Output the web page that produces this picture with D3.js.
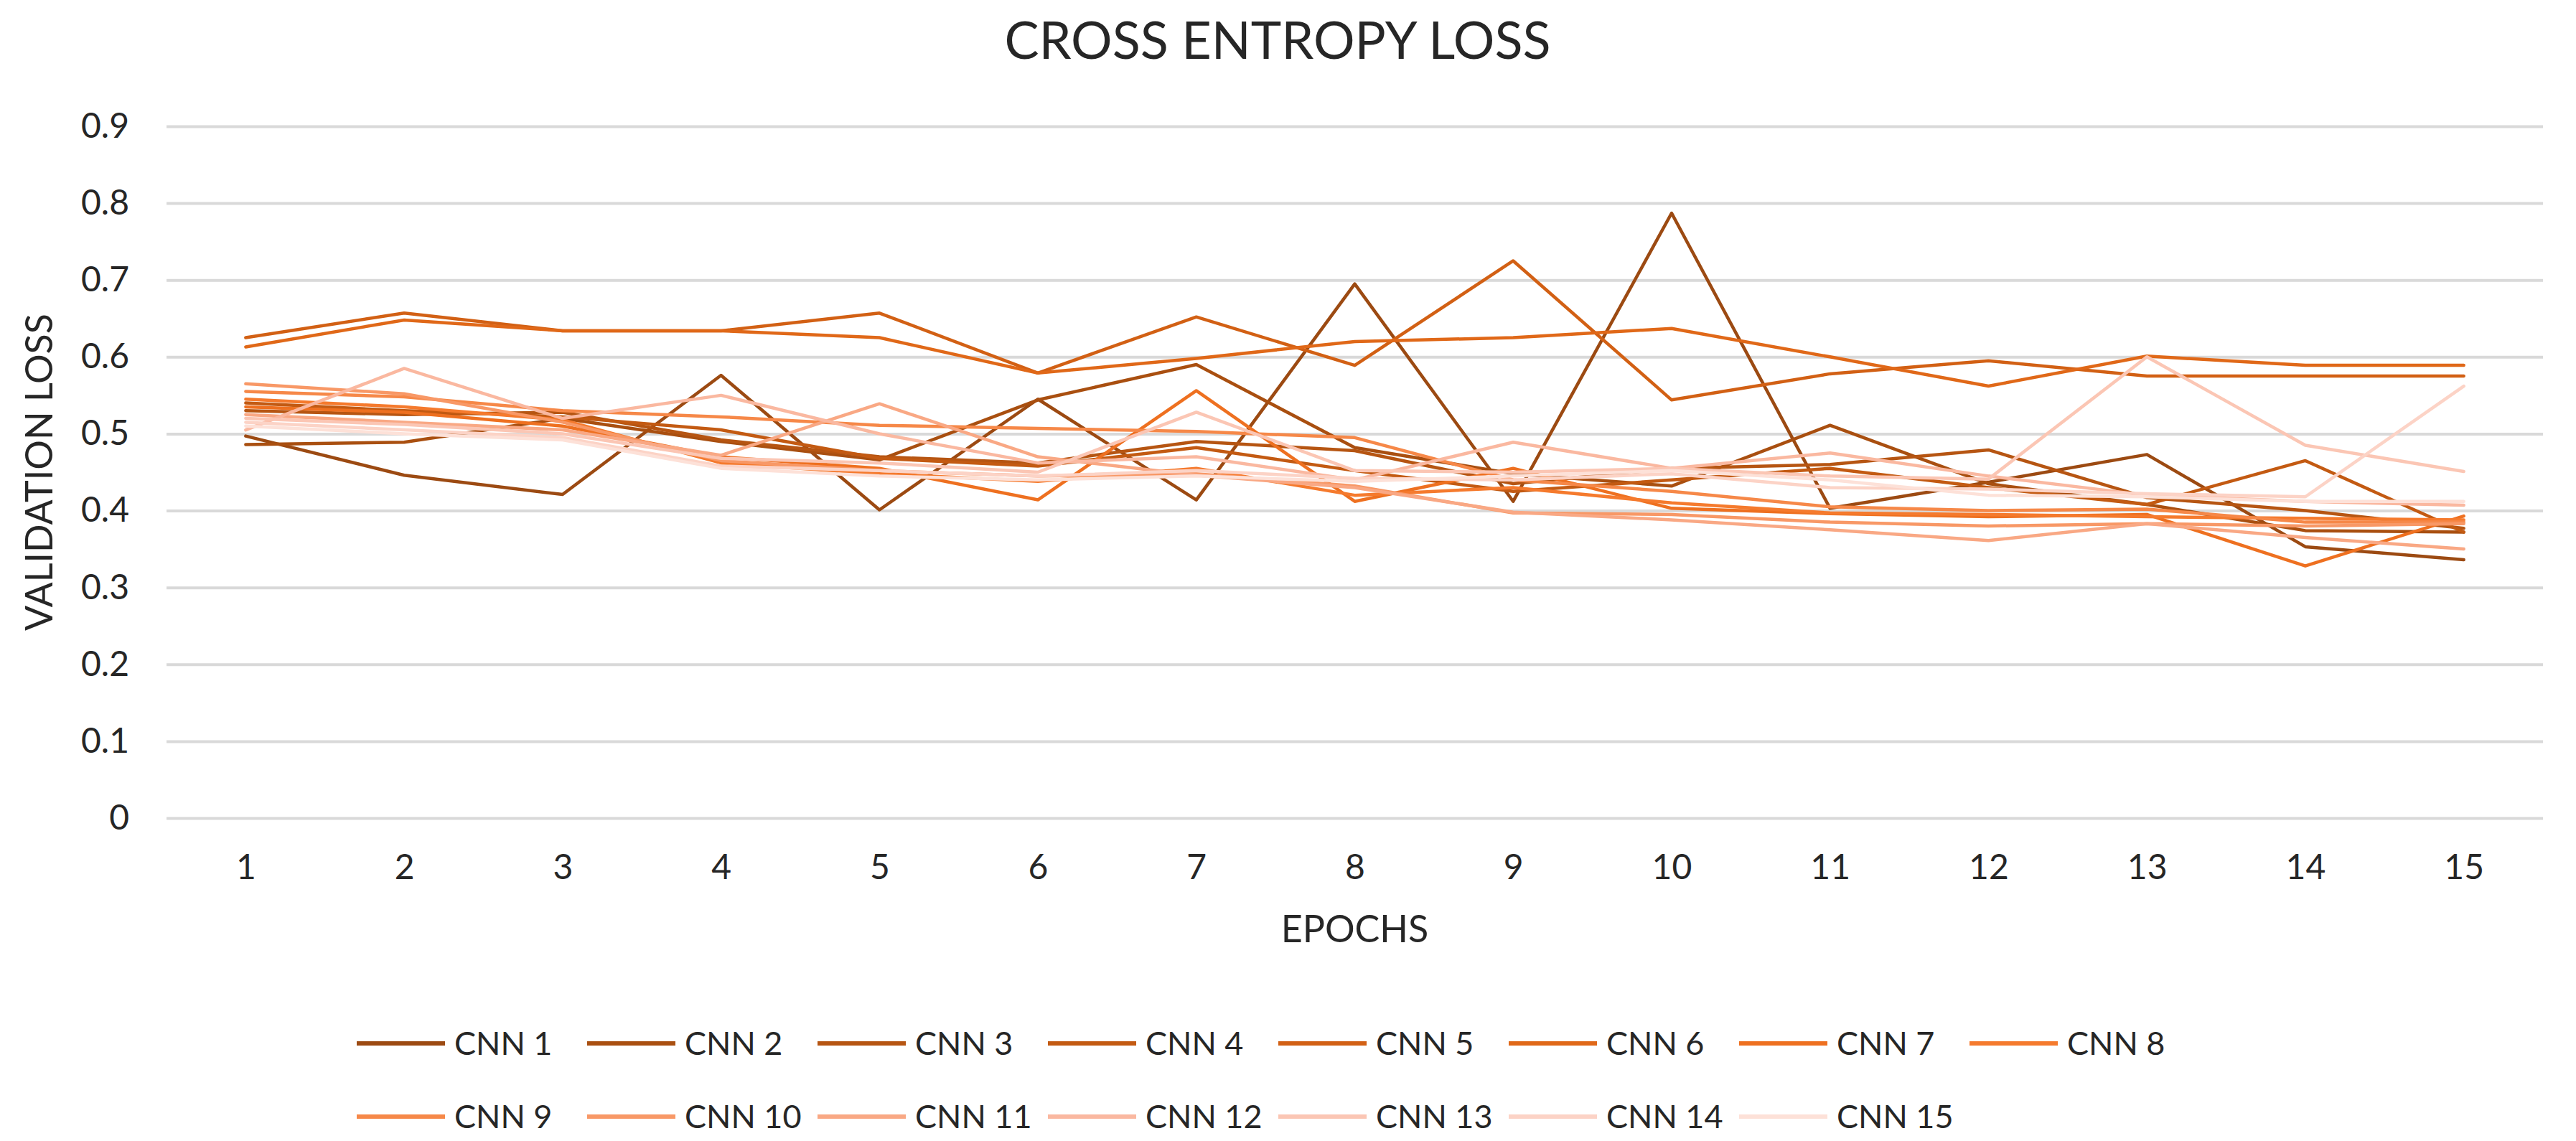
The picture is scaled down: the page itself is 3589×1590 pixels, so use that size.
<!DOCTYPE html>
<html>
<head>
<meta charset="utf-8">
<script src="https://cdn.jsdelivr.net/npm/d3@7"></script>
<style>
  html, body { margin: 0; padding: 0; background: #ffffff; }
  svg { display: block; }
  text { font-family: "Lato", "Liberation Sans", sans-serif; fill: #262626; }
</style>
</head>
<body>
<svg id="chart" width="3589" height="1590"></svg>
<script>
// ---------------- DATA ----------------
const epochs = [1, 2, 3, 4, 5, 6, 7, 8, 9, 10, 11, 12, 13, 14, 15];
const yTicks = [0, 0.1, 0.2, 0.3, 0.4, 0.5, 0.6, 0.7, 0.8, 0.9];
const seriesNames = ["CNN 1", "CNN 2", "CNN 3", "CNN 4", "CNN 5", "CNN 6", "CNN 7", "CNN 8",
                     "CNN 9", "CNN 10", "CNN 11", "CNN 12", "CNN 13", "CNN 14", "CNN 15"];
const seriesColors = ["#9c4a12", "#a94f10", "#b65512", "#c35a12", "#d26014", "#e06818", "#ee7020", "#f57a2d",
                      "#f68848", "#f89866", "#f9a884", "#fab8a0", "#fbc6b4", "#fcd3c6", "#fde1d8"];

const cnn1  = [0.497, 0.446, 0.421, 0.576, 0.401, 0.545, 0.414, 0.695, 0.412, 0.787, 0.403, 0.437, 0.473, 0.353, 0.336];
const cnn2  = [0.486, 0.489, 0.520, 0.490, 0.466, 0.544, 0.590, 0.482, 0.448, 0.432, 0.511, 0.435, 0.408, 0.374, 0.372];
const cnn3  = [0.530, 0.525, 0.528, 0.492, 0.470, 0.462, 0.490, 0.478, 0.435, 0.455, 0.460, 0.479, 0.417, 0.400, 0.377];
const cnn4  = [0.540, 0.530, 0.522, 0.505, 0.468, 0.458, 0.482, 0.452, 0.425, 0.440, 0.455, 0.430, 0.408, 0.465, 0.372];
const cnn5  = [0.625, 0.657, 0.634, 0.634, 0.657, 0.579, 0.652, 0.589, 0.725, 0.544, 0.578, 0.595, 0.575, 0.575, 0.575];
const cnn6  = [0.613, 0.648, 0.634, 0.634, 0.625, 0.579, 0.598, 0.620, 0.625, 0.637, 0.600, 0.562, 0.601, 0.589, 0.589];
const cnn7  = [0.535, 0.528, 0.510, 0.470, 0.455, 0.414, 0.556, 0.412, 0.455, 0.403, 0.396, 0.392, 0.395, 0.328, 0.393];
const cnn8  = [0.545, 0.535, 0.518, 0.462, 0.448, 0.438, 0.455, 0.420, 0.430, 0.410, 0.397, 0.395, 0.392, 0.390, 0.388];
const cnn9  = [0.555, 0.548, 0.530, 0.522, 0.511, 0.507, 0.503, 0.495, 0.440, 0.425, 0.405, 0.400, 0.402, 0.385, 0.385];
const cnn10 = [0.565, 0.552, 0.515, 0.465, 0.452, 0.445, 0.448, 0.432, 0.397, 0.395, 0.385, 0.380, 0.383, 0.380, 0.383];
const cnn11 = [0.525, 0.515, 0.505, 0.472, 0.539, 0.470, 0.446, 0.430, 0.398, 0.388, 0.375, 0.361, 0.383, 0.365, 0.350];
const cnn12 = [0.505, 0.585, 0.520, 0.550, 0.500, 0.462, 0.470, 0.440, 0.489, 0.455, 0.475, 0.445, 0.420, 0.412, 0.407];
const cnn13 = [0.520, 0.512, 0.500, 0.468, 0.462, 0.450, 0.528, 0.452, 0.450, 0.455, 0.445, 0.441, 0.600, 0.485, 0.451];
const cnn14 = [0.515, 0.505, 0.495, 0.458, 0.452, 0.445, 0.452, 0.442, 0.440, 0.448, 0.430, 0.428, 0.422, 0.418, 0.562];
const cnn15 = [0.510, 0.500, 0.492, 0.455, 0.445, 0.440, 0.445, 0.438, 0.445, 0.452, 0.440, 0.420, 0.418, 0.412, 0.412];

const seriesValues = [cnn1, cnn2, cnn3, cnn4, cnn5, cnn6, cnn7, cnn8, cnn9, cnn10, cnn11, cnn12, cnn13, cnn14, cnn15];

// ---------------- LAYOUT ----------------
const svg = d3.select("#chart");
const plot = { left: 232, right: 3543, top: 176, bottom: 1140 };

svg.append("rect").attr("x", 0).attr("y", 0).attr("width", 3589).attr("height", 1590).attr("fill", "#ffffff");

const x = d3.scalePoint().domain(epochs).range([plot.left, plot.right]).padding(0.5);
const y = d3.scaleLinear().domain([0, 0.9]).range([plot.bottom, plot.top]);

// gridlines + y tick labels
const yAxis = d3.axisLeft(y)
  .tickValues(yTicks)
  .tickSizeInner(-(plot.right - plot.left))
  .tickSizeOuter(0)
  .tickPadding(52)
  .tickFormat(d => d === 0 ? "0" : d3.format(".1f")(d));

const gy = svg.append("g").attr("transform", `translate(${plot.left},0)`).call(yAxis);
gy.select(".domain").remove();
gy.selectAll(".tick line").attr("stroke", "#d9d9d9").attr("stroke-width", 4);
gy.selectAll(".tick text").attr("font-size", 48).attr("fill", "#595959").style("font-family", "Lato");

// x axis labels
const xAxis = d3.axisBottom(x).tickSize(0).tickPadding(51);
const gx = svg.append("g").attr("transform", `translate(0,${plot.bottom})`).call(xAxis);
gx.select(".domain").remove();
gx.selectAll(".tick text").attr("font-size", 48).attr("fill", "#595959").style("font-family", "Lato");

// lines
const line = d3.line()
  .x((d, i) => x(epochs[i]))
  .y(d => y(d));

svg.append("g").selectAll("path")
  .data(seriesValues)
  .join("path")
  .attr("d", d => line(d))
  .attr("fill", "none")
  .attr("stroke", (d, i) => seriesColors[i])
  .attr("stroke-width", 4.5)
  .attr("stroke-linejoin", "round")
  .attr("stroke-linecap", "round");

// title
svg.append("text")
  .attr("x", 1780).attr("y", 82)
  .attr("text-anchor", "middle")
  .attr("font-size", 72)
  .attr("fill", "#000000")
  .text("CROSS ENTROPY LOSS");

// axis titles
svg.append("text")
  .attr("x", (plot.left + plot.right) / 2).attr("y", 1313)
  .attr("text-anchor", "middle")
  .attr("font-size", 52)
  .attr("fill", "#262626")
  .text("EPOCHS");

svg.append("text")
  .attr("transform", `translate(73,${(plot.top + plot.bottom) / 2}) rotate(-90)`)
  .attr("text-anchor", "middle")
  .attr("font-size", 52)
  .attr("fill", "#262626")
  .text("VALIDATION LOSS");

// legend
const legend = svg.append("g");
const perRow = 8;
seriesNames.forEach((name, i) => {
  const row = Math.floor(i / perRow);
  const col = i % perRow;
  const lx = 497 + col * 321;
  const ly = 1454 + row * 102;
  legend.append("line")
    .attr("x1", lx).attr("x2", lx + 123)
    .attr("y1", ly).attr("y2", ly)
    .attr("stroke", seriesColors[i])
    .attr("stroke-width", 6);
  legend.append("text")
    .attr("x", lx + 136).attr("y", ly + 16)
    .attr("font-size", 45)
    .attr("fill", "#262626")
    .text(name);
});
</script>
</body>
</html>
